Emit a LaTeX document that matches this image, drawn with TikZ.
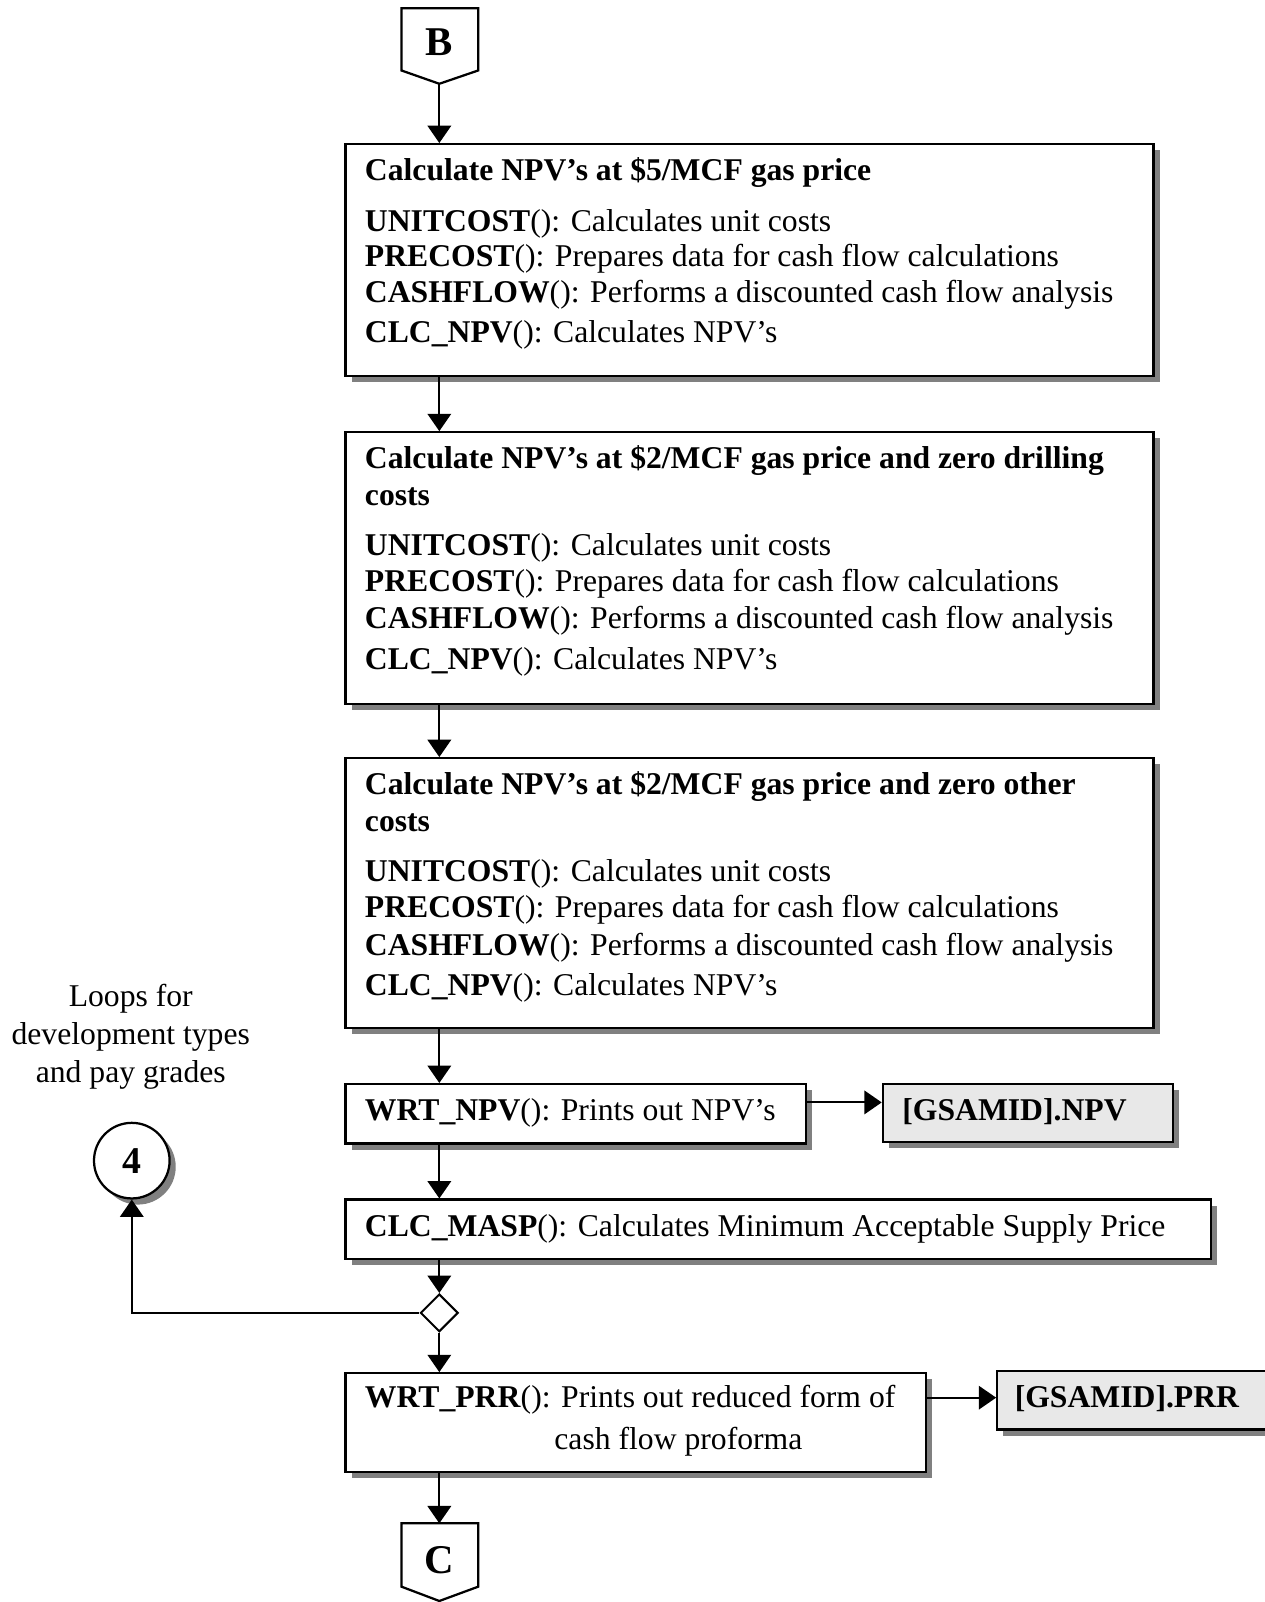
\documentclass[tikz,border=0pt]{standalone}
\usepackage{fontspec}
\setmainfont{Liberation Serif}
\usetikzlibrary{arrows.meta,shadows,shapes.geometric}
\newcommand{\fsn}{\fontsize{31}{35}\selectfont}
\newcommand{\fsf}{\fontsize{37}{40}\selectfont}
\newcommand{\fsl}{\fontsize{31}{37}\selectfont}
\newcommand{\fsb}{\fontsize{40}{44}\selectfont}
\definecolor{shadowgray}{gray}{0.5}
\definecolor{filegray}{gray}{0.91}
\tikzset{
  flowbox/.style={draw, line width=2.2pt, fill=white, inner sep=0pt, anchor=north west,
    drop shadow={shadow xshift=6pt, shadow yshift=-6pt, fill=shadowgray, opacity=1}},
  filebox/.style={flowbox, fill=filegray},
  txt/.style={anchor=base west, inner sep=0pt, font=\fsn},
  arr/.style={-{Triangle[length=17pt,width=23pt]}, line width=2pt},
  conn/.style={draw, line width=2.2pt, fill=white, line join=miter},
}
\begin{document}
\begin{tikzpicture}[x=1pt,y=-1pt]
\useasboundingbox (0,0) rectangle (1238,1568);
\fill[white] (0,0) rectangle (1238,1568);

% ---- off-page connector B
\coordinate (Btl) at (393,8);
\coordinate (Btr) at (468,8);
\coordinate (Bbr) at (468,69);
\coordinate (Btip) at (430,82);
\coordinate (Bbl) at (393,69);
\fill[shadowgray, shift={(6pt,-6pt)}] (Btl) -- (Btr) -- (Bbr) -- (Btip) -- (Bbl) -- cycle;
\path[conn] (Btl) -- (Btr) -- (Bbr) -- (Btip) -- (Bbl) -- cycle;
\node[font=\fsb\bfseries, inner sep=0pt] (B) at (430,41) {B};

% ---- box 1
\node[flowbox, minimum width=791pt, minimum height=227pt] (b1) at (337,140) {};
\node[txt] (b1t) at (357,177) {\textbf{Calculate NPV’s at \$5/MCF gas price}};
\node[txt] (b1a) at (357,227) {\textbf{UNITCOST}(): Calculates unit costs};
\node[txt] (b1b) at (357,261) {\textbf{PRECOST}(): Prepares data for cash flow calculations};
\node[txt] (b1c) at (357,296) {\textbf{CASHFLOW}(): Performs a discounted cash flow analysis};
\node[txt] (b1d) at (357,335) {\textbf{CLC\_NPV}(): Calculates NPV’s};

% ---- box 2
\node[flowbox, minimum width=791pt, minimum height=266pt] (b2) at (337,422) {};
\node[txt] (b2t) at (357,459) {\textbf{Calculate NPV’s at \$2/MCF gas price and zero drilling}};
\node[txt] (b2u) at (357,495) {\textbf{costs}};
\node[txt] (b2a) at (357,544) {\textbf{UNITCOST}(): Calculates unit costs};
\node[txt] (b2b) at (357,579) {\textbf{PRECOST}(): Prepares data for cash flow calculations};
\node[txt] (b2c) at (357,615) {\textbf{CASHFLOW}(): Performs a discounted cash flow analysis};
\node[txt] (b2d) at (357,655) {\textbf{CLC\_NPV}(): Calculates NPV’s};

% ---- box 3
\node[flowbox, minimum width=791pt, minimum height=264pt] (b3) at (337,741) {};
\node[txt] (b3t) at (357,778) {\textbf{Calculate NPV’s at \$2/MCF gas price and zero other}};
\node[txt] (b3u) at (357,814) {\textbf{costs}};
\node[txt] (b3a) at (357,863) {\textbf{UNITCOST}(): Calculates unit costs};
\node[txt] (b3b) at (357,898) {\textbf{PRECOST}(): Prepares data for cash flow calculations};
\node[txt] (b3c) at (357,935) {\textbf{CASHFLOW}(): Performs a discounted cash flow analysis};
\node[txt] (b3d) at (357,974) {\textbf{CLC\_NPV}(): Calculates NPV’s};

% ---- box 4 and file NPV
\node[flowbox, minimum width=451pt, minimum height=58pt] (b4) at (337,1060) {};
\node[txt] (b4a) at (357,1097) {\textbf{WRT\_NPV}(): Prints out NPV’s};
\node[filebox, minimum width=284pt, minimum height=57pt] (npv) at (863,1060) {};
\node[txt] (npvt) at (883,1097) {\textbf{[GSAMID].NPV}};

% ---- box 5
\node[flowbox, minimum width=847pt, minimum height=58pt] (b5) at (337,1173) {};
\node[txt] (b5a) at (357,1210) {\textbf{CLC\_MASP}(): Calculates Minimum Acceptable Supply Price};

% ---- decision diamond
\node[diamond, draw, line width=2pt, fill=white, minimum width=37pt, minimum height=37pt, inner sep=0pt] (d) at (430,1285) {};

% ---- loop connector 4
\node[circle, draw, line width=2.2pt, fill=white, minimum size=74pt, inner sep=0pt,
  drop shadow={shadow xshift=6pt, shadow yshift=-6pt, fill=shadowgray, opacity=1}] (c4) at (129,1136) {\fsf\bfseries 4};
\node[font=\fsl, align=center, inner sep=0pt, anchor=north] (loops) at (128,963)
  {Loops for\\development types\\and pay grades};

% ---- box 6 and file PRR
\node[flowbox, minimum width=568pt, minimum height=97pt] (b6) at (337,1343) {};
\node[txt] (b6a) at (357,1378) {\textbf{WRT\_PRR}(): Prints out reduced form of};
\node[txt, anchor=base] (b6b) at (664,1419) {cash flow proforma};
\node[filebox, minimum width=290pt, minimum height=57pt] (prr) at (975,1341) {};
\node[txt] (prrt) at (993,1378) {\textbf{[GSAMID].PRR}};

% ---- off-page connector C
\coordinate (Ctl) at (393,1491);
\coordinate (Ctr) at (468,1491);
\coordinate (Cbr) at (468,1553);
\coordinate (Ctip) at (430,1567);
\coordinate (Cbl) at (393,1553);
\fill[shadowgray, shift={(6pt,-6pt)}] (Ctl) -- (Ctr) -- (Cbr) -- (Ctip) -- (Cbl) -- cycle;
\path[conn] (Ctl) -- (Ctr) -- (Cbr) -- (Ctip) -- (Cbl) -- cycle;
\node[font=\fsb\bfseries, inner sep=0pt] (C) at (430,1527) {C};

% ---- connectors
\draw[arr] (Btip) -- (Btip |- b1.north);
\draw[arr] (b1.south -| Btip) -- (b2.north -| Btip);
\draw[arr] (b2.south -| Btip) -- (b3.north -| Btip);
\draw[arr] (b3.south -| Btip) -- (b4.north -| Btip);
\draw[arr] ([xshift=-2pt,yshift=-19pt]b4.north east) -- ([yshift=-19pt]npv.north west);
\draw[arr] (b4.south -| Btip) -- (b5.north -| Btip);
\draw[arr] (b5.south -| Btip) -- (d.north);
\draw[arr] (d.west) -| (c4.south);
\draw[arr] (d.south) -- (b6.north -| Btip);
\draw[arr] ([xshift=-2pt,yshift=-25pt]b6.north east) -- ([yshift=-25pt]b6.north east -| prr.west);
\draw[arr] (b6.south -| Btip) -- (Btip |- Ctl);
\end{tikzpicture}
\end{document}
